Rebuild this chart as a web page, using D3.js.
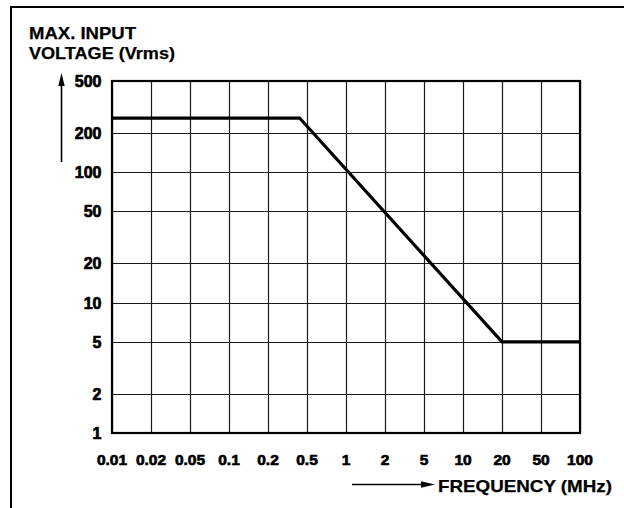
<!DOCTYPE html>
<html>
<head>
<meta charset="utf-8">
<script src="https://cdn.jsdelivr.net/npm/d3@7"></script>
<style>
  html, body { margin: 0; padding: 0; background: #fff; }
  svg { display: block; font-family: "Liberation Sans", Arial, sans-serif; }
</style>
</head>
<body>
<svg id="chart" width="624" height="508"></svg>
<script>
// ---- data ----
const xTicks = [0.01, 0.02, 0.05, 0.1, 0.2, 0.5, 1, 2, 5, 10, 20, 50, 100];
const xLabels = ["0.01", "0.02", "0.05", "0.1", "0.2", "0.5", "1", "2", "5", "10", "20", "50", "100"];
const yTicks = [1, 2, 5, 10, 20, 50, 100, 200, 500];
const yLabels = ["1", "2", "5", "10", "20", "50", "100", "200", "500"];
const freqMHz = [0.01, 0.42, 20, 100];
const maxVrms = [260, 260, 5, 5];

// ---- layout ----
const svg = d3.select("#chart");
const L = 112, R = 580, T = 81, B = 433;

// x: equally spaced 1-2-5 positions (piecewise log)
const x = d3.scaleLog()
  .domain(xTicks)
  .range(xTicks.map((d, i) => L + i * (R - L) / (xTicks.length - 1)));
const y = d3.scaleLog().domain([1, 500]).range([B, T]);

// outer frame (top + left)
svg.append("line").attr("x1", 11).attr("x2", 624).attr("y1", 7).attr("y2", 7)
  .attr("stroke", "#000").attr("stroke-width", 2);
svg.append("line").attr("x1", 11).attr("x2", 11).attr("y1", 6).attr("y2", 508)
  .attr("stroke", "#000").attr("stroke-width", 2);

// grid
const g = svg.append("g");
g.selectAll("line.vg").data(xTicks).join("line")
  .attr("class", "vg")
  .attr("x1", d => Math.round(x(d)) + 0.5).attr("x2", d => Math.round(x(d)) + 0.5)
  .attr("y1", T).attr("y2", B)
  .attr("stroke", "#1a1a1a").attr("stroke-width", 1.2);
g.selectAll("line.hg").data(yTicks).join("line")
  .attr("class", "hg")
  .attr("x1", L).attr("x2", R)
  .attr("y1", d => Math.round(y(d)) + 0.5).attr("y2", d => Math.round(y(d)) + 0.5)
  .attr("stroke", "#1a1a1a").attr("stroke-width", 1.2);

// plot border
g.append("rect").attr("x", L).attr("y", T).attr("width", R - L).attr("height", B - T)
  .attr("fill", "none").attr("stroke", "#000").attr("stroke-width", 2.2);

// data line
const pts = freqMHz.map((f, i) => [f, maxVrms[i]]);
svg.append("path")
  .datum(pts)
  .attr("d", d3.line().x(d => x(d[0])).y(d => y(d[1])))
  .attr("fill", "none").attr("stroke", "#000").attr("stroke-width", 3.2)
  .attr("stroke-linejoin", "miter");

// tick labels
svg.selectAll("text.xl").data(xTicks).join("text")
  .attr("class", "xl")
  .attr("x", d => x(d)).attr("y", 464.5)
  .attr("text-anchor", "middle")
  .attr("font-size", 15.5).attr("font-weight", "bold")
  .attr("stroke", "#000").attr("stroke-width", 0.7)
  .text((d, i) => xLabels[i]);
svg.selectAll("text.yl").data(yTicks).join("text")
  .attr("class", "yl")
  .attr("x", 101.5).attr("y", d => y(d) + 6)
  .attr("text-anchor", "end")
  .attr("font-size", 16).attr("font-weight", "bold")
  .attr("stroke", "#000").attr("stroke-width", 0.7)
  .text((d, i) => yLabels[i]);

// axis titles
const titleStyle = sel => sel.attr("font-size", 17).attr("font-weight", "bold")
  .attr("stroke", "#000").attr("stroke-width", 0.25)
  .attr("lengthAdjust", "spacingAndGlyphs");
svg.append("text").attr("x", 29).attr("y", 38.5)
  .call(titleStyle).attr("textLength", 107)
  .text("MAX. INPUT");
svg.append("text").attr("x", 29).attr("y", 58.5)
  .call(titleStyle).attr("textLength", 146)
  .text("VOLTAGE (Vrms)");
svg.append("text").attr("x", 438).attr("y", 491.5)
  .call(titleStyle).attr("textLength", 174)
  .text("FREQUENCY (MHz)");

// arrows
// y arrow
svg.append("line").attr("x1", 61.5).attr("x2", 61.5).attr("y1", 162).attr("y2", 84)
  .attr("stroke", "#000").attr("stroke-width", 1.6);
svg.append("path").attr("d", "M61.5,73 L58.3,86 L64.7,86 Z").attr("fill", "#000");
// x arrow
svg.append("line").attr("x1", 352).attr("x2", 424).attr("y1", 484.5).attr("y2", 484.5)
  .attr("stroke", "#000").attr("stroke-width", 1.6);
svg.append("path").attr("d", "M435,484.5 L421,481.3 L421,487.7 Z").attr("fill", "#000");
</script>
</body>
</html>
